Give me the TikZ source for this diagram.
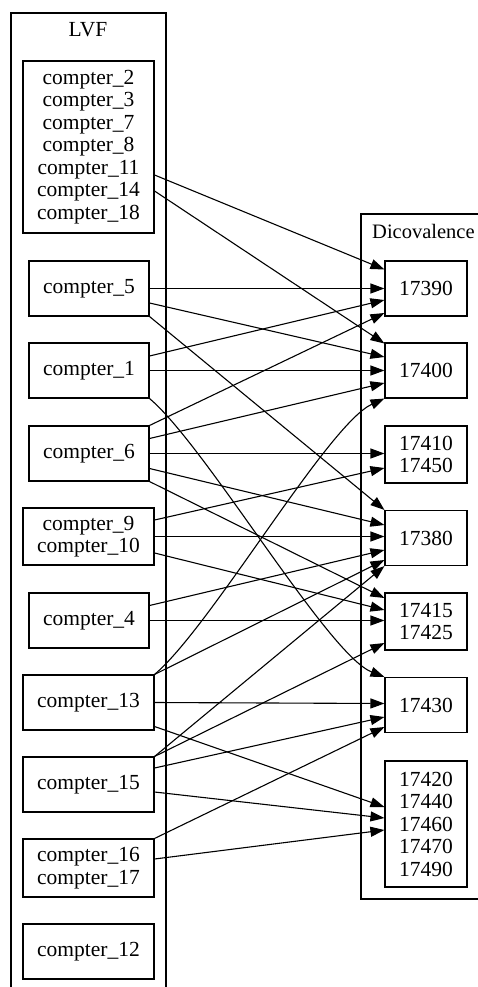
\documentclass[tikz,border=0pt]{standalone}
\usepackage{fontspec}
\setmainfont{Liberation Serif}
\usetikzlibrary{arrows.meta}
\begin{document}
\begin{tikzpicture}[x=1pt,y=-1pt,
  every node/.style={font=\fontsize{21.5}{22.5}\selectfont},
  lbox/.style={draw,line width=1.1pt,inner sep=0pt,align=center,minimum width=120pt,minimum height=55pt},
  wbox/.style={lbox,minimum width=131pt},
  rbox/.style={lbox,minimum width=82pt},
  cluster/.style={draw,line width=1.1pt},
  edge/.style={line width=1.1pt,-{Triangle[length=14pt,width=10pt]}}]
\clip (0,0) rectangle (478,987);
% clusters
\draw[cluster] (11,1010) -- (11,13) -- (166,13) -- (166,1010);
\node (lvf) at (88,30) {LVF};
\draw[cluster] (500,214) -- (361,214) -- (361,899) -- (500,899);
\node[anchor=west,inner sep=0pt,font=\fontsize{20.5}{22.5}\selectfont] (dico) at (372,231) {Dicovalence};
% left nodes
\node[wbox,minimum height=172pt] (big) at (88.5,147) {compter\_2\\compter\_3\\compter\_7\\compter\_8\\compter\_11\\compter\_14\\compter\_18};
\node[lbox] (c5) at (89,288.5) {compter\_5};
\node[lbox] (c1) at (89,370.5) {compter\_1};
\node[lbox] (c6) at (89,453.5) {compter\_6};
\node[wbox,minimum height=57pt] (c9) at (88.5,536.5) {compter\_9\\compter\_10};
\node[lbox] (c4) at (89,620.5) {compter\_4};
\node[wbox] (c13) at (88.5,702.5) {compter\_13};
\node[wbox] (c15) at (88.5,784.5) {compter\_15};
\node[wbox,minimum height=58pt] (c16) at (88.5,868) {compter\_16\\compter\_17};
\node[wbox] (c12) at (88.5,951.5) {compter\_12};
% right nodes
\node[rbox] (r390) at (426,288.5) {17390};
\node[rbox] (r400) at (426,370.5) {17400};
\node[rbox,minimum height=57pt] (r410) at (426,454.5) {17410\\17450};
\node[rbox] (r380) at (426,538) {17380};
\node[rbox,minimum height=57pt] (r415) at (426,621.5) {17415\\17425};
\node[rbox] (r430) at (426,705) {17430};
\node[rbox,minimum height=126pt] (r420) at (426,824) {17420\\17440\\17460\\17470\\17490};
% edges
\draw[edge] ([yshift=-28pt]big.east) -- ([yshift=19pt]r390.west);
\draw[edge] ([yshift=-44pt]big.east) -- ([yshift=27pt]r400.west);
\draw[edge] (c5.east) -- (r390.west);
\draw[edge] ([yshift=-14.5pt]c5.east) -- ([yshift=13.5pt]r400.west);
\draw[edge] (c5.south east) -- (r380.north west);
\draw[edge] ([yshift=14.5pt]c1.east) -- ([yshift=-11.5pt]r390.west);
\draw[edge] (c1.east) -- (r400.west);
\draw[edge] (c1.south east) .. controls (206,446) and (328,655) .. (r430.north west);
\draw[edge] (c6.north east) -- ([yshift=-24.5pt]r390.west);
\draw[edge] ([yshift=15pt]c6.east) -- ([yshift=-12.5pt]r400.west);
\draw[edge] (c6.east) -- ([yshift=1pt]r410.west);
\draw[edge] ([yshift=-15pt]c6.east) -- ([yshift=13pt]r380.west);
\draw[edge] (c6.south east) -- ([yshift=23.5pt]r415.west);
\draw[edge] ([yshift=16.5pt]c9.east) -- ([yshift=-13.5pt]r410.west);
\draw[edge] (c9.east) -- ([yshift=1.5pt]r380.west);
\draw[edge] ([yshift=-16.5pt]c9.east) -- ([yshift=11.5pt]r415.west);
\draw[edge] ([yshift=15pt]c4.east) -- ([yshift=-12pt]r380.west);
\draw[edge] (c4.east) -- ([yshift=1pt]r415.west);
\draw[edge] (c13.north east) .. controls (211,627) and (328,424) .. (r400.south west);
\draw[edge] (c13.north east) -- ([yshift=-22pt]r380.west);
\draw[edge] (c13.east) -- ([yshift=1.5pt]r430.west);
\draw[edge] ([yshift=-24pt]c13.east) -- ([yshift=17pt]r420.west);
\draw[edge] (c15.north east) -- (r380.south west);
\draw[edge] (c15.north east) -- ([yshift=-21.5pt]r415.west);
\draw[edge] ([yshift=16.5pt]c15.east) -- ([yshift=-12pt]r430.west);
\draw[edge] ([yshift=-7.5pt]c15.east) -- ([yshift=6pt]r420.west);
\draw[edge] (c16.north east) -- ([yshift=-22pt]r430.west);
\draw[edge] ([yshift=9pt]c16.east) -- ([yshift=-6pt]r420.west);
\end{tikzpicture}
\end{document}
